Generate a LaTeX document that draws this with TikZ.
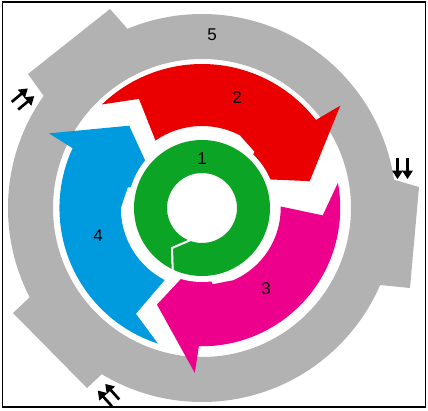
\documentclass[tikz,border=0pt]{standalone}
\usepackage{fontspec}
\setmainfont{Liberation Sans}
\usetikzlibrary{arrows.meta}
\definecolor{ringgray}{RGB}{178,178,178}
\definecolor{arrowred}{RGB}{234,0,0}
\definecolor{arrowpink}{RGB}{236,0,140}
\definecolor{arrowblue}{RGB}{0,154,222}
\definecolor{ringgreen}{RGB}{12,164,36}
\begin{document}
\begin{tikzpicture}
[x=1pt,y=1pt,
  numlabel/.style={font=\fontsize{17}{17}\selectfont,inner sep=0pt},%
  pairarrow/.style={-{Triangle[length=8.5pt,width=10.5pt]},line width=2.7pt},%
  framedecorate/.style={draw,line width=1.5pt}]
\useasboundingbox (-202,-202) rectangle (226,208);
%% outer ring and its three tabs
\fill[ringgray,even odd rule] (0,0) circle (194) (0,0) circle (149);
\foreach \ax/\ay/\bx/\by/\cx/\cy/\ex/\ey in {-69.5/173.5/-92/199/-174/134/-151.5/102.5,
  181/31.5/217/21/208/-80/163/-75.5, -163.5/-81/-189/-105/-115/-180/-94/-160.5} {
  \fill[ringgray] (\ax,\ay) -- (\bx,\by) -- (\cx,\cy) -- (\ex,\ey) -- cycle;
}
%% curved arrows, tail and head turned on their own
\foreach \col/\tl/\hd/\sc in {arrowred/0/0/1, arrowpink/-123.5/-129/0.96, arrowblue/118/117.5/0.99} {
  \fill[\col] ({134+\tl}:{144*\sc}) arc[start angle={134+\tl}, end angle={37.7+\hd}, radius={144*\sc}]
    -- ({36.5+\hd}:{172*\sc}) -- ({14+\hd}:{111*\sc}) -- ({26+\hd}:66) -- ({40+\hd}:58)
    -- ({47+\hd}:77) -- ({62.5+\hd}:{82*\sc})
    arc[start angle={62.5+\hd}, end angle={124.6+\tl}, radius={82*\sc}]
    -- ({120+\tl}:{126*\sc}) -- cycle;
}
%% inner ring
\fill[white] (0,0) circle (74);
\fill[ringgreen,even odd rule] (0,0) circle (68) (0,0) circle (35);
\draw[white,line width=2pt] (-9,-31) -- (-30,-40) -- (-29,-71);
%% paired arrows beside the tabs
\foreach \px/\py/\rot in {-179/109/-50, 200.5/39.5/180, -93.5/-187/42} {
  \begin{scope}[shift={(\px,\py)},rotate=\rot]
    \draw[pairarrow] (-5,-10.5) -- (-5,10.5);
    \draw[pairarrow] (5,-10.5) -- (5,10.5);
  \end{scope}
}
%% numbers
\foreach \lab/\x/\y in {1/0/49, 2/35/110, 3/64/-81, 4/-104/-28, 5/10/173} {
  \node (n\lab) at (\x,\y) [numlabel] {\lab};
}
\draw[framedecorate] (-199.5,206) rectangle (223.5,-199);
\end{tikzpicture}
\end{document}
